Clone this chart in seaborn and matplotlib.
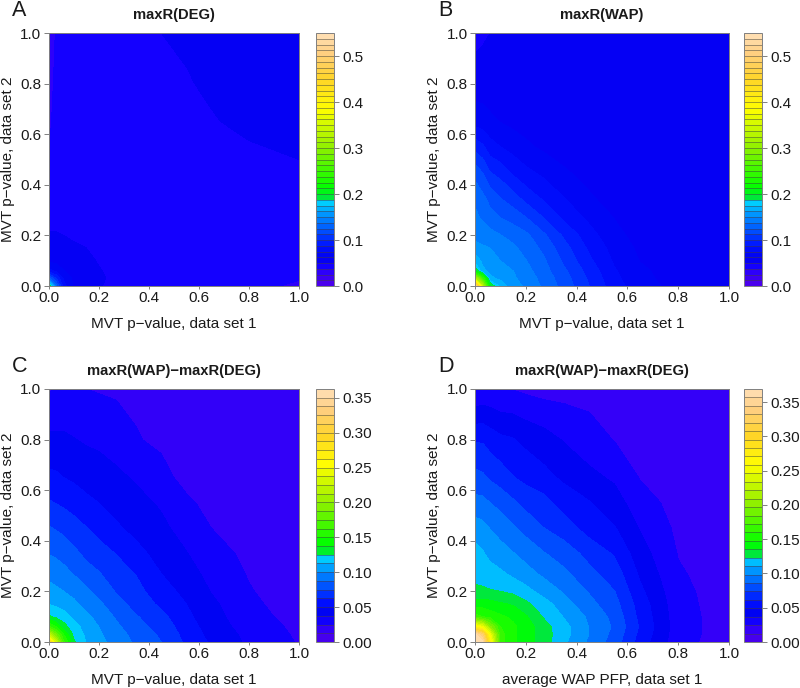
import numpy as np
import seaborn as sns
import matplotlib.pyplot as plt
from matplotlib.colors import BoundaryNorm, ListedColormap

sns.set_style("ticks")
plt.rcParams['font.family'] = ['Liberation Sans', 'DejaVu Sans']

# grid the surfaces were read on
grid = [0, .03, .06, .1, .15, .2, .27, .35, .45, .55, .65, .8, 1]

deg = [
    [.21, .13, .08, .06, .055, .051, .046, .044, .043, .043, .042, .04, .036],
    [.13, .10, .072, .06, .056, .052, .047, .044, .043, .043, .042, .041, .038],
    [.08, .072, .063, .057, .054, .051, .046, .044, .043, .043, .042, .041, .04],
    [.06, .058, .056, .055, .053, .049, .045, .044, .043, .043, .042, .041, .041],
    [.055, .055, .054, .052, .05, .047, .045, .044, .043, .043, .042, .042, .042],
    [.051, .051, .05, .048, .047, .046, .044, .044, .043, .043, .043, .043, .043],
    [.046, .046, .046, .046, .045, .045, .044, .044, .043, .043, .043, .044, .044],
    [.044, .044, .044, .044, .044, .044, .044, .044, .043, .043, .044, .045, .046],
    [.04, .043, .043, .043, .043, .043, .043, .043, .043, .044, .045, .046, .048],
    [.037, .041, .042, .042, .042, .042, .042, .043, .044, .045, .046, .049, .052],
    [.036, .04, .042, .042, .042, .042, .043, .044, .045, .046, .049, .053, .055],
    [.035, .039, .042, .042, .042, .043, .044, .045, .047, .049, .052, .055, .056],
    [.034, .038, .041, .042, .043, .044, .045, .047, .05, .052, .054, .056, .056],
]

wap = [
    [.52, .33, .20, .17, .155, .148, .135, .12, .10, .08, .068, .058, .05],
    [.33, .25, .165, .16, .152, .145, .133, .118, .098, .078, .066, .057, .05],
    [.20, .165, .16, .155, .15, .142, .13, .115, .095, .076, .065, .056, .05],
    [.17, .16, .155, .15, .145, .138, .127, .11, .09, .073, .062, .056, .05],
    [.155, .152, .15, .145, .14, .133, .122, .105, .085, .07, .06, .055, .05],
    [.146, .144, .142, .138, .133, .128, .115, .098, .08, .066, .058, .055, .05],
    [.14, .136, .13, .125, .12, .113, .10, .085, .072, .062, .056, .055, .052],
    [.135, .128, .12, .112, .105, .095, .085, .075, .064, .057, .055, .055, .053],
    [.12, .112, .10, .095, .085, .078, .072, .064, .058, .055, .055, .055, .054],
    [.095, .09, .08, .075, .07, .065, .06, .057, .055, .055, .055, .055, .055],
    [.07, .068, .065, .062, .059, .057, .056, .055, .055, .055, .055, .055, .055],
    [.056, .056, .055, .055, .055, .055, .055, .055, .055, .055, .055, .055, .055],
    [.046, .048, .05, .052, .054, .055, .055, .055, .055, .055, .055, .055, .055],
]

diff_p = [
    [.30, .225, .165, .127, .112, .104, .095, .085, .075, .06, .048, .035, .024],
    [.225, .185, .15, .122, .11, .102, .093, .083, .073, .058, .046, .034, .023],
    [.165, .15, .13, .118, .107, .10, .09, .08, .07, .056, .044, .032, .022],
    [.127, .122, .118, .11, .103, .096, .086, .076, .066, .053, .042, .03, .02],
    [.112, .11, .107, .103, .096, .09, .08, .07, .06, .05, .04, .028, .018],
    [.104, .102, .10, .096, .09, .084, .074, .066, .056, .046, .037, .026, .017],
    [.097, .095, .092, .087, .08, .076, .068, .062, .05, .042, .034, .024, .017],
    [.087, .085, .082, .078, .072, .068, .062, .054, .045, .038, .03, .022, .018],
    [.076, .074, .072, .068, .063, .058, .052, .046, .04, .033, .025, .02, .018],
    [.064, .062, .06, .057, .053, .05, .045, .041, .036, .028, .02, .02, .019],
    [.053, .052, .05, .048, .045, .043, .04, .036, .03, .02, .019, .02, .02],
    [.04, .04, .04, .038, .036, .035, .032, .026, .022, .02, .02, .021, .021],
    [.024, .025, .025, .025, .025, .024, .023, .022, .022, .022, .022, .022, .021],
]

diff_pfp = [
    [.368, .36, .27, .165, .15, .142, .129, .113, .096, .08, .056, .029, .018],
    [.36, .33, .25, .165, .15, .142, .129, .115, .098, .082, .058, .03, .018],
    [.27, .25, .20, .16, .15, .142, .128, .115, .098, .084, .06, .03, .018],
    [.165, .16, .155, .15, .145, .137, .122, .11, .096, .082, .058, .03, .018],
    [.142, .142, .14, .137, .134, .126, .116, .104, .09, .078, .056, .029, .018],
    [.125, .125, .124, .123, .12, .115, .106, .097, .085, .074, .052, .028, .018],
    [.12, .118, .116, .113, .108, .103, .096, .089, .077, .068, .047, .026, .018],
    [.115, .112, .107, .103, .099, .094, .087, .08, .07, .06, .042, .024, .018],
    [.105, .102, .098, .094, .088, .082, .074, .068, .056, .05, .036, .022, .018],
    [.09, .09, .086, .082, .076, .07, .066, .056, .05, .042, .03, .02, .018],
    [.078, .076, .072, .068, .062, .058, .053, .047, .04, .035, .024, .018, .018],
    [.06, .06, .056, .052, .05, .046, .042, .036, .03, .024, .02, .018, .018],
    [.024, .026, .026, .024, .024, .022, .02, .02, .02, .02, .018, .018, .018],
]

panels = [
    ("A", "maxR(DEG)", deg, .55, 44, "MVT p\u2212value, data set 1", [0, .1, .2, .3, .4, .5], "%.1f"),
    ("B", "maxR(WAP)", wap, .55, 44, "MVT p\u2212value, data set 1", [0, .1, .2, .3, .4, .5], "%.1f"),
    ("C", "maxR(WAP)\u2212maxR(DEG)", diff_p, .3625, 29, "MVT p\u2212value, data set 1",
     [0, .05, .1, .15, .2, .25, .3, .35], "%.2f"),
    ("D", "maxR(WAP)\u2212maxR(DEG)", diff_pfp, .369, 30, "average WAP PFP, data set 1",
     [0, .05, .1, .15, .2, .25, .3, .35], "%.2f"),
]

# left, right, top, bottom of each plot, left edge of its colour bar, x of the y label, in pixels
boxes = [(48.7, 299, 33, 286, 316, 15), (475, 729, 33, 286, 744, 441),
         (48.7, 299, 389, 642, 316, 15), (475, 729, 389, 642, 744, 441)]

stops = [(0, "#5000e8"), (.05, "#3400f8"), (.08, "#1400ff"), (.11, "#0000f0"), (.16, "#0010ff"),
         (.22, "#0050ff"), (.28, "#0090ff"), (.335, "#00d4ff"), (.35, "#00e83c"),
         (.39, "#00ff00"), (.55, "#90f000"), (.7, "#ffff00"), (.82, "#ffd428"), (.92, "#ffcf80"), (1, "#ffe0b8")]

W, H = 800, 688
fig = plt.figure(figsize=(W / 100, H / 100), dpi=100)


def make_cmap(n):
    # one colour per band, the cyan/green jump stays sharp this way
    pos = [s[0] for s in stops]
    cols = np.array(sns.color_palette([s[1] for s in stops]))
    t = (np.arange(n) + .5) / n
    rgb = np.column_stack([np.interp(t, pos, cols[:, i]) for i in range(3)])
    return ListedColormap(sns.color_palette([tuple(c) for c in rgb]))


for (letter, title, z, top, n, xlab, cticks, cfmt), (l, r, t, b, cl, yl) in zip(panels, boxes):
    ax = fig.add_axes([l / W, 1 - b / H, (r - l) / W, (b - t) / H])
    levels = np.linspace(0, top, n + 1)
    cmap = make_cmap(n)
    norm = BoundaryNorm(levels, n)
    cf = ax.contourf(grid, grid, z, levels=levels, cmap=cmap, norm=norm)
    ax.set_xlim(0, 1)
    ax.set_ylim(0, 1)
    ax.set_xticks([0, .2, .4, .6, .8, 1])
    ax.set_yticks([0, .2, .4, .6, .8, 1])
    ax.set_xticklabels(["%.1f" % v for v in ax.get_xticks()])
    ax.set_yticklabels(["%.1f" % v for v in ax.get_yticks()])
    ax.tick_params(axis="x", labelsize=11, length=2, width=.7, color="#808080", pad=1.5, labelcolor="#1a1a1a")
    ax.tick_params(axis="y", labelsize=11, length=3.3, width=.7, color="#808080", pad=2, labelcolor="#1a1a1a")
    for s in ax.spines.values():
        s.set_linewidth(.7)
        s.set_color("#808080")
    ax.set_xlabel(xlab, fontsize=11, labelpad=9, color="#1a1a1a")
    ax.set_ylabel("MVT p\u2212value, data set 2", fontsize=11, color="#1a1a1a")
    ax.yaxis.set_label_coords((yl - l) / (r - l), .5)
    ax.set_title(title, fontsize=10.6, fontweight="bold", pad=10, color="#1a1a1a")
    fig.text((l - 37) / W, 1 - (t - 22.5) / H, letter, fontsize=15.5, ha="left", va="center", color="#1a1a1a")

    cax = fig.add_axes([cl / W, 1 - b / H, 18 / W, (b - t) / H])
    cbar = fig.colorbar(cf, cax=cax, drawedges=True)
    cbar.dividers.set_color("#404040")
    cbar.dividers.set_linewidth(.5)
    cbar.dividers.set_alpha(.7)
    cbar.outline.set_edgecolor("#808080")
    cbar.outline.set_linewidth(.7)
    cbar.set_ticks(cticks)
    cbar.set_ticklabels([cfmt % v for v in cticks])
    cbar.minorticks_off()
    cax.tick_params(labelsize=11, length=3.3, width=.7, color="#808080", pad=3, labelcolor="#1a1a1a")

fig.savefig("out.png", dpi=100)
